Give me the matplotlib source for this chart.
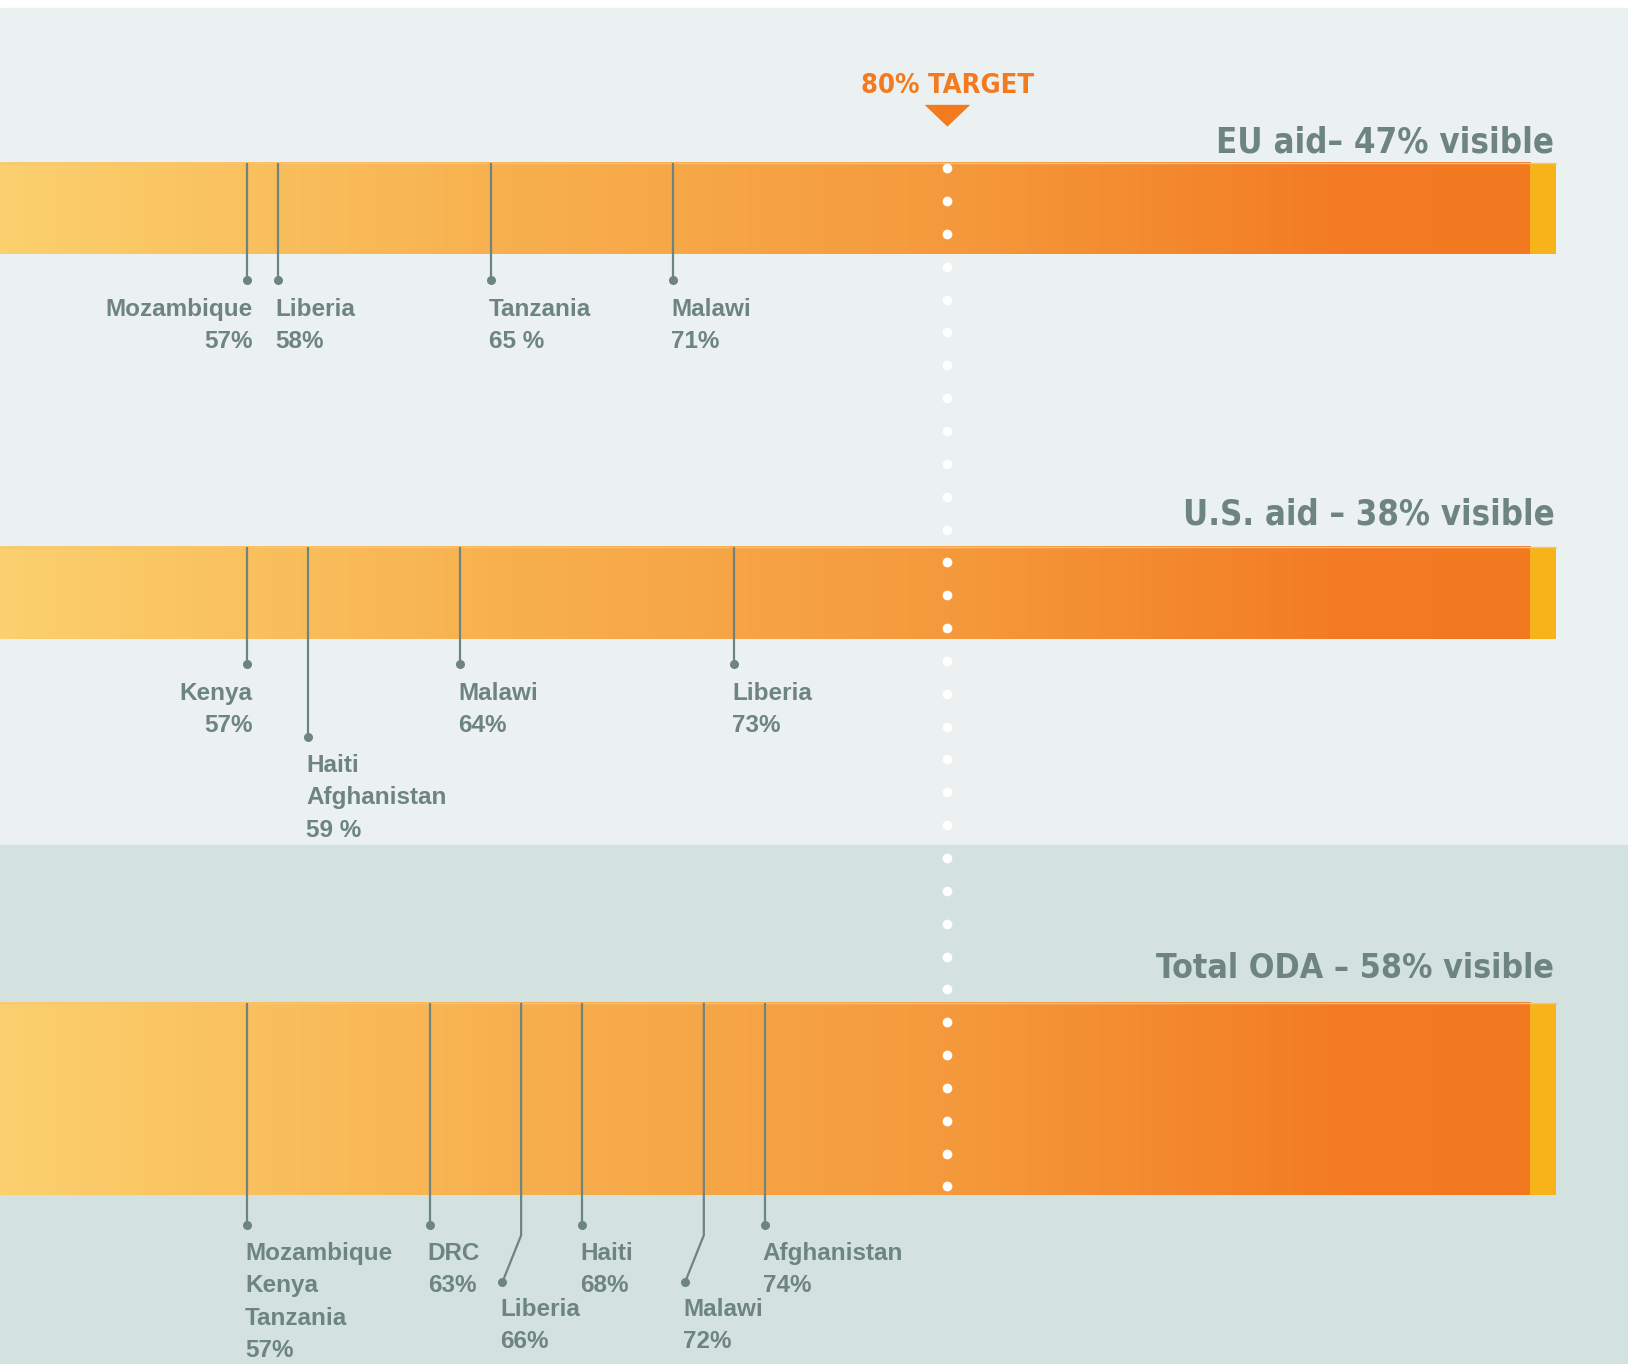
import numpy as np
import matplotlib.pyplot as plt
from matplotlib import font_manager
from matplotlib.font_manager import FontProperties
from matplotlib.colors import LinearSegmentedColormap
from matplotlib.patches import Rectangle, Polygon

# ---- data ----
target = 80
bar_titles = ["EU aid\u2013 47% visible", "U.S. aid \u2013 38% visible", "Total ODA \u2013 58% visible"]

eu_countries = ["Mozambique", "Liberia", "Tanzania", "Malawi"]
eu_values = [57, 58, 65, 71]
eu_labels = ["57%", "58%", "65 %", "71%"]

us_countries = ["Kenya", "Haiti\nAfghanistan", "Malawi", "Liberia"]
us_values = [57, 59, 64, 73]
us_labels = ["57%", "59 %", "64%", "73%"]

oda_countries = ["Mozambique\nKenya\nTanzania", "DRC", "Liberia", "Haiti", "Malawi", "Afghanistan"]
oda_values = [57, 63, 66, 68, 72, 74]
oda_labels = ["57%", "63%", "66%", "68%", "72%", "74%"]

# ---- layout ----
PPP = (1499 - 238) / (100 - 57)      # screen px per percentage point
XL = 100 - 1499 / PPP
XR = 100 + (1568 - 1499) / PPP
H = 1314
SCALE = 1628 / 1568                   # output px per layout px

def px(d):
    return d / PPP

# condensed bold faces for the headings
RANK = {"ultra-condensed": 0, "extra-condensed": 1, "condensed": 2, "semi-condensed": 3}
cands = []
for f in font_manager.fontManager.ttflist:
    st = str(f.stretch).lower()
    nm = f.name.lower()
    if st in RANK:
        r = RANK[st]
    elif "narrow" in nm or "condensed" in nm:
        r = 2
    else:
        continue
    bold = f.weight in ("bold", 700, "700") or "bold" in f.fname.lower()
    if bold and f.style == "normal" and "semibold" not in f.fname.lower() \
            and "extrabold" not in f.fname.lower():
        cands.append((r, f.fname))
cands.sort()
cond_title = next((fn for r, fn in cands if r == 2), cands[-1][1] if cands else None)
cond_target = cands[0][1] if cands else None

def head_font(fname, size):
    if fname:
        return FontProperties(fname=fname, size=size)
    return FontProperties(family="Liberation Sans", weight="bold", size=size)

GREY = "#6d847f"
ORANGE = "#f47a20"
BG_TOP = "#eaf1f0"
BG_BOT = "#d3e2df"

grad = LinearSegmentedColormap.from_list(
    "aid", [(0.0, "#fcd06e"), (0.33, "#f8b04e"), (0.62, "#f59a3c"),
            (0.88, "#f37b23"), (1.0, "#f37921")])

fig = plt.figure(figsize=(16.28, 13.64), dpi=100)
ax = fig.add_axes([0, 0, 1, 1])
ax.set_xlim(XL, XR)
ax.set_ylim(H, 0)
ax.axis("off")
renderer = fig.canvas.get_renderer()

def fit_width(txt, width_layout_px, max_size):
    # shrink font so the text is as wide as in the reference
    w = txt.get_window_extent(renderer).width
    size = txt.get_fontsize() * width_layout_px * SCALE / w
    txt.set_fontsize(min(size, max_size))

# backgrounds
ax.add_patch(Rectangle((XL, 0), XR - XL, 8, color="white", zorder=0))
ax.add_patch(Rectangle((XL, 8), XR - XL, 814 - 8, color=BG_TOP, zorder=0))
ax.add_patch(Rectangle((XL, 814), XR - XL, H - 814, color=BG_BOT, zorder=0))

bars = [(157, 245), (527, 616), (966, 1151)]
title_y = [147, 505, 942]
title_w = [324, 358, 384]
grad_end = 100 - px(25)
for (y0, y1), title, ty, tw in zip(bars, bar_titles, title_y, title_w):
    ax.imshow(np.linspace(0, 1, 600).reshape(1, -1), cmap=grad, aspect="auto",
              extent=(XL, grad_end, y1, y0), interpolation="bilinear", zorder=1)
    ax.add_patch(Rectangle((grad_end, y0), 100 - grad_end, y1 - y0,
                           color="#f8b31a", lw=0, zorder=1))
    ax.plot([XL, 100], [y0, y0], color="#f7c28a", lw=1.0, zorder=1.5)
    t = ax.text(100 - px(2), ty, title, ha="right", va="baseline", color=GREY,
                fontproperties=head_font(cond_title, 30))
    fit_width(t, tw, 30)

# target marker
t = ax.text(target, 90, "80% TARGET", ha="center", va="baseline", color=ORANGE,
            fontproperties=head_font(cond_target, 28))
fit_width(t, 137 * 1.22, 28)
ax.add_patch(Polygon([(target - px(22), 101), (target + px(22), 101), (target, 122)],
                     closed=True, color=ORANGE, lw=0, zorder=3))
dots_y = np.linspace(162, 1143, 32)
ax.plot(np.full_like(dots_y, target), dots_y, "o", color="white", ms=7, mew=0, zorder=4)

# country leaders: (align, dot_y, first text baseline, bend)
eu_layout = [("right", 270, 304, None), ("left", 270, 304, None),
             ("left", 270, 304, None), ("left", 270, 304, None)]
us_layout = [("right", 640, 674, None), ("left", 710, 744, None),
             ("left", 640, 674, None), ("left", 640, 674, None)]
oda_layout = [("left", 1180, 1214, None), ("left", 1180, 1214, None),
              ("left", 1235, 1268, (1190, -18)), ("left", 1180, 1214, None),
              ("left", 1235, 1268, (1190, -18)), ("left", 1180, 1214, None)]

groups = [(eu_countries, eu_values, eu_labels, eu_layout, bars[0][0]),
          (us_countries, us_values, us_labels, us_layout, bars[1][0]),
          (oda_countries, oda_values, oda_labels, oda_layout, bars[2][0])]

LINE = 31
for countries, values, labels, layout, top in groups:
    for name, val, lab, (align, dot_y, ty, bend) in zip(countries, values, labels, layout):
        if bend is None:
            xs, ys = [val, val], [top, dot_y]
            dot_x = val
        else:
            dot_x = val + px(bend[1])
            xs, ys = [val, val, dot_x], [top, bend[0], dot_y]
        ax.plot(xs, ys, color=GREY, lw=1.6, zorder=5, solid_capstyle="butt")
        ax.plot([dot_x], [dot_y], "o", color=GREY, ms=6.5, mew=0, zorder=5)
        tx = dot_x + (px(5) if align == "right" else px(-2))
        lines = name.split("\n") + [lab]
        for i, s in enumerate(lines):
            ax.text(tx, ty + i * LINE, s, ha=align, va="baseline", color=GREY,
                    fontsize=17.5, fontweight="bold", family=["Liberation Sans", "DejaVu Sans"])

fig.savefig("out.png", dpi=100)
